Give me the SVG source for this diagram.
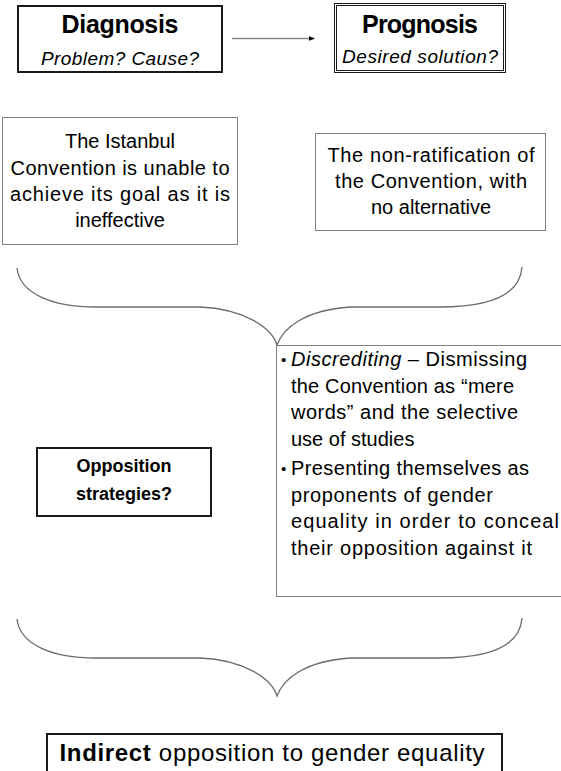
<svg xmlns="http://www.w3.org/2000/svg" width="561" height="771" viewBox="0 0 561 771">
<defs>
<style>
text{font-family:"Liberation Sans",Arial,sans-serif;fill:#000}
.h{font-weight:bold;font-size:25px;text-anchor:middle}
.s{font-style:italic;font-size:19px;text-anchor:middle}
.t{font-size:20px;text-anchor:middle}
.b{font-size:20px}
.dot{font-size:15px}
.thick{fill:#fff;stroke:#1a1a1a;stroke-width:2}
.thin{fill:#fff;stroke:#7f7f7f;stroke-width:1}
.brace{fill:none;stroke:#6b6b6b;stroke-width:1.3}
</style>
<marker id="ah" markerWidth="6" markerHeight="6" refX="5" refY="3" orient="auto" markerUnits="userSpaceOnUse">
<path d="M0,0.8 L6,3 L0,5.2 Z" fill="#000"/>
</marker>
</defs>
<rect width="561" height="771" fill="#fff"/>

<g id="diagnosis">
<rect class="thick" x="18" y="6" width="204" height="66"/>
<text class="h" x="120" y="33" textLength="117">Diagnosis</text>
<text class="s" x="120" y="65" textLength="158">Problem? Cause?</text>
</g>

<g id="prognosis">
<rect fill="#fff" stroke="#1a1a1a" stroke-width="1" x="334.5" y="3.5" width="171" height="69"/>
<rect fill="none" stroke="#1a1a1a" stroke-width="1" x="336.5" y="5.5" width="167" height="65"/>
<text class="h" x="420" y="33" textLength="116">Prognosis</text>
<text class="s" x="420" y="63" textLength="156">Desired solution?</text>
</g>

<g id="diagnosis-text">
<rect class="thin" x="2.5" y="117.5" width="235" height="127"/>
<text class="t" x="120" y="148" textLength="110">The Istanbul</text>
<text class="t" x="120" y="175" textLength="219">Convention is unable to</text>
<text class="t" x="120" y="201" textLength="220">achieve its goal as it is</text>
<text class="t" x="120" y="227">ineffective</text>
</g>

<g id="prognosis-text">
<rect class="thin" x="315.5" y="133.5" width="230" height="97"/>
<text class="t" x="431" y="162" textLength="207">The non-ratification of</text>
<text class="t" x="431" y="188" textLength="192">the Convention, with</text>
<text class="t" x="431" y="214">no alternative</text>
</g>

<g id="strategies-question">
<rect class="thick" x="37" y="448" width="174" height="68"/>
<text x="124" y="472" font-size="18" font-weight="bold" text-anchor="middle">Opposition</text>
<text x="124" y="500" font-size="18" font-weight="bold" text-anchor="middle">strategies?</text>
</g>

<g id="strategies">
<rect class="thin" x="276.5" y="345.5" width="290" height="251"/>
<text class="dot" x="281" y="365">•</text>
<text class="b" x="291" y="366" textLength="236"><tspan font-style="italic">Discrediting</tspan> – Dismissing</text>
<text class="b" x="291" y="392.5" textLength="223">the Convention as “mere</text>
<text class="b" x="291" y="419" textLength="227">words” and the selective</text>
<text class="b" x="291" y="445.5">use of studies</text>
<text class="dot" x="281" y="474">•</text>
<text class="b" x="291" y="475" textLength="238">Presenting themselves as</text>
<text class="b" x="291" y="501.5" textLength="202">proponents of gender</text>
<text class="b" x="291" y="528" textLength="268">equality in order to conceal</text>
<text class="b" x="291" y="554.5" textLength="241">their opposition against it</text>
</g>

<g id="conclusion">
<rect class="thick" x="47" y="734" width="455" height="60"/>
<text x="272" y="761" font-size="24" text-anchor="middle" textLength="425"><tspan font-weight="bold">Indirect</tspan> opposition to gender equality</text>
</g>

<g id="connectors">
<line x1="232" y1="38.5" x2="314" y2="38.5" stroke="#8a8a8a" stroke-width="1.5" marker-end="url(#ah)"/>
<path class="brace" d="M17,268 C20,295 55,307 95,307 L200,307 C245,309 272,328 277,345 C283,328 305,310 350,307 L440,307 C490,307 520,295 522,267"/>
<path class="brace" transform="translate(0,351)" d="M17,268 C20,295 55,307 95,307 L200,307 C245,309 272,328 277,345 C283,328 305,310 350,307 L440,307 C490,307 520,295 522,267"/>
</g>
</svg>
